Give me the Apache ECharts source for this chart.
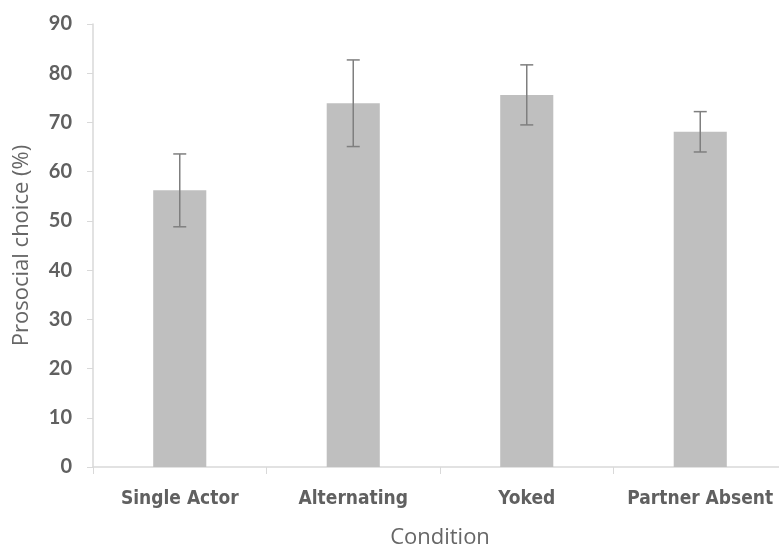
<!DOCTYPE html>
<html><head><meta charset="utf-8">
<script src="https://cdn.jsdelivr.net/npm/echarts@6/dist/echarts.min.js"></script>
<style>html,body{margin:0;padding:0;background:#fff}#c{width:779px;height:547px}</style>
</head><body><div id="c"></div>
<script>
const categories = ['Single Actor', 'Alternating', 'Yoked', 'Partner Absent'];
const means = [56.2, 73.9, 75.6, 68.1];
const errors = [7.4, 8.8, 6.1, 4.1];
const yTicks = [0, 10, 20, 30, 40, 50, 60, 70, 80, 90];

const chart = echarts.init(document.getElementById('c'));
const errData = categories.map((c, i) => [i, means[i] - errors[i], means[i] + errors[i]]);
chart.setOption({
  animation: false,
  grid: { left: 93, right: -8, top: 24, bottom: 80, containLabel: false, outerBoundsMode: 'none' },
  xAxis: {
    type: 'category', data: categories,
    name: 'Condition', nameLocation: 'middle', nameGap: 60,
    nameTextStyle: { fontFamily: 'Open Sans', fontSize: 22, color: '#666' },
    axisLine: { lineStyle: { color: '#d9d9d9', width: 1.5 } },
    axisTick: { show: true, length: 7, lineStyle: { color: '#d9d9d9' } },
    axisLabel: { interval: 0, hideOverlap: false, fontFamily: 'DejaVu Sans Condensed', fontWeight: 'bold', fontSize: 19, color: '#606060', margin: 23 }
  },
  yAxis: {
    type: 'value', min: 0, max: 90, interval: 10,
    name: 'Prosocial choice (%)', nameLocation: 'middle', nameGap: 60, nameRotate: 90,
    nameTextStyle: { fontFamily: 'Open Sans', fontSize: 22, color: '#666' },
    axisLine: { show: true, lineStyle: { color: '#d9d9d9', width: 1.5 } },
    axisTick: { show: true, length: 6, lineStyle: { color: '#d9d9d9' } },
    splitLine: { show: false },
    axisLabel: { fontFamily: 'Lato', fontWeight: 'bold', fontSize: 20, color: '#606060', margin: 21,
      formatter: v => yTicks.includes(v) ? String(v) : '' }
  },
  series: [
    { type: 'bar', data: means, barWidth: '30.6%', itemStyle: { color: '#bfbfbf' } },
    { type: 'custom', data: errData, z: 10,
      renderItem: function (params, api) {
        const x = api.value(0);
        const lo = api.coord([x, api.value(1)]);
        const hi = api.coord([x, api.value(2)]);
        const cw = 6.5;
        const st = { stroke: '#7f7f7f', lineWidth: 1.5 };
        return { type: 'group', children: [
          { type: 'line', shape: { x1: lo[0], y1: lo[1], x2: hi[0], y2: hi[1] }, style: st },
          { type: 'line', shape: { x1: lo[0] - cw, y1: lo[1], x2: lo[0] + cw, y2: lo[1] }, style: st },
          { type: 'line', shape: { x1: hi[0] - cw, y1: hi[1], x2: hi[0] + cw, y2: hi[1] }, style: st }
        ]};
      }
    }
  ]
});
</script></body></html>
